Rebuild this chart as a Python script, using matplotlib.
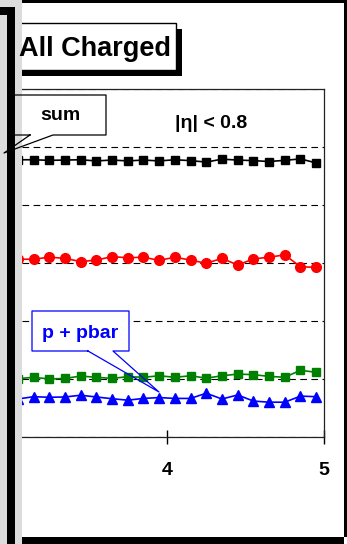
import matplotlib
matplotlib.use("Agg")
import matplotlib.pyplot as plt
from matplotlib.patches import Rectangle

plt.rcParams['font.family'] = ['Liberation Sans', 'DejaVu Sans']
plt.rcParams['font.weight'] = 'bold'

# pT bin centres (GeV/c) and particle fractions, |eta| < 0.8
pt = [3.05, 3.15, 3.25, 3.35, 3.45, 3.55, 3.65, 3.75, 3.85, 3.95,
      4.05, 4.15, 4.25, 4.35, 4.45, 4.55, 4.65, 4.75, 4.85, 4.95]
frac_sum = [0.956, 0.956, 0.954, 0.955, 0.956, 0.952, 0.955, 0.952, 0.955, 0.952,
            0.956, 0.953, 0.948, 0.958, 0.955, 0.953, 0.950, 0.954, 0.959, 0.945]
frac_pi = [0.613, 0.613, 0.620, 0.616, 0.605, 0.610, 0.622, 0.618, 0.620, 0.609,
           0.620, 0.610, 0.599, 0.616, 0.593, 0.614, 0.620, 0.628, 0.587, 0.585]
frac_k = [0.201, 0.206, 0.200, 0.202, 0.210, 0.206, 0.202, 0.208, 0.206, 0.211,
          0.206, 0.211, 0.203, 0.211, 0.217, 0.215, 0.209, 0.206, 0.230, 0.223]
frac_p = [0.131, 0.139, 0.137, 0.138, 0.144, 0.138, 0.132, 0.127, 0.133, 0.136,
          0.133, 0.133, 0.151, 0.131, 0.145, 0.124, 0.120, 0.120, 0.141, 0.139]
xticks = [4, 5]
yticks = [0, 0.2, 0.4, 0.6, 0.8, 1.0, 1.2]

W, H = 347, 544
fig = plt.figure(figsize=(W / 100, H / 100), dpi=100)
fig.patch.set_facecolor('white')


def box(l, t, r, b):
    return [l / W, 1 - b / H, (r - l) / W, (b - t) / H]


ax = fig.add_axes(box(22, 89, 324, 437))

ax.plot(pt, frac_sum, '-s', color='black', ms=5.5, lw=1.2)
ax.plot(pt, frac_pi, '-o', color='#ff0000', ms=7, lw=1.2)
ax.plot(pt, frac_k, '-s', color='#008000', ms=5.5, lw=1.2)
ax.plot(pt, frac_p, '-^', color='#0000ff', ms=7.5, lw=1.2)

ax.set_xticks(xticks)
ax.set_yticks(yticks)
ax.set_xlim(4 - 145 / 157, 5)
ax.set_ylim(0, 1.2)
ax.tick_params(axis='x', direction='inout', length=10, width=1,
               labelsize=14, pad=13, colors='black')
ax.tick_params(axis='y', left=False, labelleft=False)
ax.yaxis.grid(True, color='black', ls=(0, (6, 4)), lw=0.8)
ax.spines['left'].set_visible(False)
for s in ('top', 'right', 'bottom'):
    ax.spines[s].set_linewidth(0.9)
    ax.spines[s].set_color('#222222')

# annotation layer in pixel coordinates
ov = fig.add_axes([0, 0, 1, 1], zorder=5)
ov.set_xlim(0, W)
ov.set_ylim(H, 0)
ov.axis('off')

# title box with drop shadow
ov.add_patch(Rectangle((8, 29), 174, 47, facecolor='black', edgecolor='none'))
ov.add_patch(Rectangle((2, 23), 174, 47, facecolor='white', edgecolor='black', lw=1))
ov.text(171, 56, 'All Charged', fontsize=19.5, ha='right', va='baseline')

ov.text(211, 128, r'|η| < 0.8', fontsize=14, ha='center', va='baseline')

# "sum" callout
ov.add_patch(Rectangle((14, 95), 92, 40, facecolor='white', edgecolor='none'))
ov.plot([30, 4, 53, 106, 106, 14, 14, 30],
        [135, 153, 135, 135, 95, 95, 135, 135], color='black', lw=0.9)
ov.text(60, 120, 'sum', fontsize=14, ha='center', va='baseline')

# "p + pbar" callout
ov.add_patch(Rectangle((32, 311), 97, 40, facecolor='white', edgecolor='none'))
ov.plot([88, 159, 113, 129, 129, 32, 32, 88],
        [351, 392, 351, 351, 311, 311, 351, 351], color='#0000ff', lw=0.9)
ov.text(80.5, 338, 'p + pbar', fontsize=14, ha='center', va='baseline',
        color='#0000ff')

# panel frame and neighbouring panel edge
ov.add_patch(Rectangle((0, 0), 22, H, facecolor='#dcdcdc', edgecolor='none'))
ov.add_patch(Rectangle((0, 7), 15, 8, facecolor='black', edgecolor='none'))
ov.add_patch(Rectangle((7, 7), 8, H - 7, facecolor='black', edgecolor='none'))
ov.add_patch(Rectangle((22, 0), W - 22, 3, facecolor='black', edgecolor='none'))
ov.add_patch(Rectangle((344, 0), 3, 537, facecolor='black', edgecolor='none'))
ov.add_patch(Rectangle((22, 537), 322, 7, facecolor='black', edgecolor='none'))

fig.savefig('out.png', dpi=100)
